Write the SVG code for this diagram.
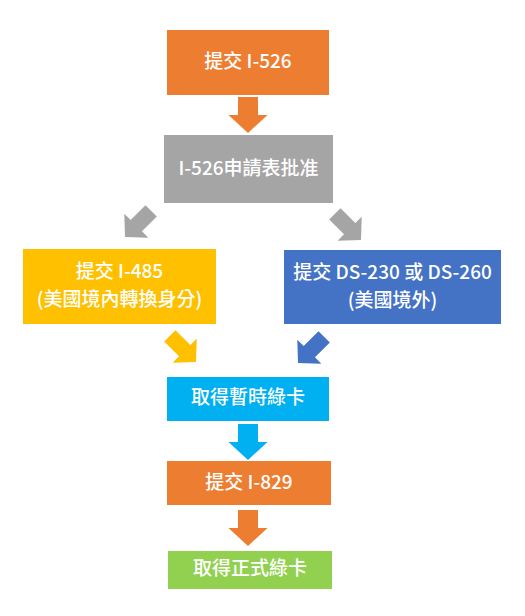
<svg xmlns="http://www.w3.org/2000/svg" width="525" height="616" viewBox="0 0 525 616">
<style>
.t{font-family:"Noto Sans CJK TC","Noto Sans",sans-serif;font-size:19px;font-weight:500;fill:#fff;text-anchor:middle}
</style>
<defs>
<path id="down" d="M-10,-36 L10,-36 L10,-18 L19.5,-18 L0,0 L-19.5,-18 L-10,-18 Z"/>
<path id="diag" d="M-8,-37 L8,-37 L8,-16 L17,-16 L0,0 L-17,-16 L-8,-16 Z"/>
</defs>
<rect width="525" height="616" fill="#fff"/>
<g id="n1"><rect x="167" y="30" width="162" height="65" fill="#ED7D31"/><text class="t" x="248" y="68">提交 I-526</text></g>
<g id="n2"><rect x="164" y="135" width="169" height="68" fill="#A5A5A5"/><text class="t" x="248.5" y="175">I-526申請表批准</text></g>
<g id="n3"><rect x="23" y="249" width="193" height="75" fill="#FFC000"/><text class="t" x="119.5" y="278">提交 I-485</text><text class="t" x="119.5" y="306">(美國境內轉換身分)</text></g>
<g id="n4"><rect x="284" y="250" width="217" height="74" fill="#4472C4"/><text class="t" x="392.5" y="279">提交 DS-230 或 DS-260</text><text class="t" x="392.5" y="307">(美國境外)</text></g>
<g id="n5"><rect x="167" y="377" width="162" height="44" fill="#00B0F0"/><text class="t" x="248" y="404">取得暫時綠卡</text></g>
<g id="n6"><rect x="167" y="461" width="164" height="44" fill="#ED7D31"/><text class="t" x="249" y="489">提交 I-829</text></g>
<g id="n7"><rect x="168" y="551" width="164" height="38" fill="#92D050"/><text class="t" x="250" y="575">取得正式綠卡</text></g>
<g id="connectors">
<use href="#down" transform="translate(248,133)" fill="#ED7D31"/>
<use href="#diag" transform="translate(125,237) rotate(45)" fill="#A5A5A5"/>
<use href="#diag" transform="translate(361,240) rotate(-45)" fill="#A5A5A5"/>
<use href="#diag" transform="translate(196,362) rotate(-45)" fill="#FFC000"/>
<use href="#diag" transform="translate(298,363) rotate(45)" fill="#4472C4"/>
<use href="#down" transform="translate(248,460)" fill="#00B0F0"/>
<use href="#down" transform="translate(248,546)" fill="#ED7D31"/>
</g>
</svg>
